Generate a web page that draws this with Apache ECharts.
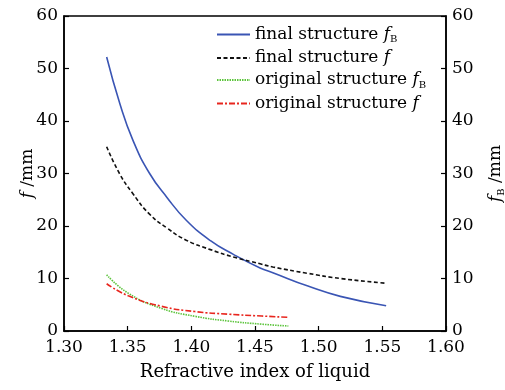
<!DOCTYPE html>
<html>
<head>
<meta charset="utf-8">
<script src="https://cdn.jsdelivr.net/npm/echarts@6/dist/echarts.min.js"></script>
<style>
  html, body { margin: 0; padding: 0; background: #fff; }
  #chart { width: 505px; height: 390px; }
</style>
</head>
<body>
<div id="chart"></div>
<script>
// refractive index samples
const nFinal = [1.3335, 1.344, 1.354, 1.367, 1.381, 1.396, 1.415, 1.433, 1.454, 1.464, 1.491, 1.517, 1.553];
const fbFinal = [52.2, 43.2, 36.4, 30.1, 25.4, 21.1, 17.2, 14.6, 12.0, 11.1, 8.6, 6.6, 4.8];
const fFinal = [35.1, 29.8, 26.2, 22.3, 19.6, 17.3, 15.5, 14.1, 12.8, 12.2, 11.0, 10.0, 9.1];

const nOrig = [1.3335, 1.3505, 1.3767, 1.4029, 1.429, 1.4553, 1.4762];
const fbOrig = [10.7, 7.2, 4.3, 2.8, 1.9, 1.3, 0.95];
const fOrig = [9.0, 6.7, 4.7, 3.7, 3.2, 2.85, 2.6];

const seriesNames = ['finalB', 'finalF', 'origB', 'origF'];

const FONT = 'DejaVu Serif';

function pairs(xs, ys) {
  return xs.map((x, i) => [x, ys[i]]);
}

// 图例文字（带斜体 f 和下标 B）
const legendText = {
  finalB: '{n|final structure }{i|f}{s|B}',
  finalF: '{n|final structure }{i|f}',
  origB: '{n|original structure }{i|f}{s|B}',
  origF: '{n|original structure }{i|f}'
};

const richText = {
  n: { fontFamily: FONT, fontSize: 17, color: '#000', lineHeight: 20 },
  i: { fontFamily: FONT, fontStyle: 'italic', fontSize: 17, color: '#000', lineHeight: 20 },
  s: { fontFamily: FONT, fontSize: 10, color: '#000', lineHeight: 20, verticalAlign: 'bottom' }
};

const chart = echarts.init(document.getElementById('chart'), null, { renderer: 'canvas' });

function yAxisOpt(name, pos, gap) {
  return {
    type: 'value',
    position: pos,
    min: 0,
    max: 60,
    interval: 10,
    name: name,
    nameLocation: 'middle',
    nameGap: gap,
    nameRotate: 90,
    nameMoveOverlap: false,
    nameTextStyle: { rich: richText },
    axisLine: { show: true, lineStyle: { color: '#000', width: 1.5 } },
    axisTick: { show: true, inside: true, length: 5, lineStyle: { color: '#000', width: 1.2 } },
    axisLabel: { fontFamily: FONT, fontSize: 17, color: '#000', margin: 6 },
    splitLine: { show: false }
  };
}

const option = {
  backgroundColor: '#fff',
  animation: false,
  grid: {
    left: 64,
    right: 59,
    top: 16,
    bottom: 59,
    show: true,
    borderColor: '#000',
    borderWidth: 1.5,
    containLabel: false,
    outerBoundsMode: 'none'
  },
  legend: {
    orient: 'vertical',
    left: 211,
    top: 21,
    itemWidth: 33,
    itemHeight: 14,
    itemGap: 5,
    data: seriesNames,
    formatter: (name) => legendText[name],
    itemStyle: { opacity: 0 },
    textStyle: { rich: richText }
  },
  xAxis: {
    type: 'value',
    min: 1.30,
    max: 1.60,
    interval: 0.05,
    name: 'Refractive index of liquid',
    nameLocation: 'middle',
    nameGap: 32,
    nameTextStyle: { fontFamily: FONT, fontSize: 18, color: '#000' },
    axisLine: { show: true, onZero: false, lineStyle: { color: '#000', width: 1.5 } },
    axisTick: { show: true, inside: true, length: 5, lineStyle: { color: '#000', width: 1.2 } },
    axisLabel: {
      fontFamily: FONT, fontSize: 17, color: '#000', margin: 8,
      formatter: (v) => v.toFixed(2)
    },
    splitLine: { show: false }
  },
  yAxis: [
    yAxisOpt('{i|f}{n| /mm}', 'left', 26),
    yAxisOpt('{i|f}{s|B}{n| /mm}', 'right', 40)
  ],
  series: [
    {
      name: 'finalB', type: 'line', yAxisIndex: 1, symbol: 'none', smooth: 0.5,
      lineStyle: { color: '#3a55b4', width: 1.6, type: 'solid' },
      itemStyle: { color: '#3a55b4' },
      data: pairs(nFinal, fbFinal)
    },
    {
      name: 'finalF', type: 'line', yAxisIndex: 0, symbol: 'none', smooth: 0.5,
      lineStyle: { color: '#111', width: 1.6, type: [4, 2.5] },
      itemStyle: { color: '#111' },
      data: pairs(nFinal, fFinal)
    },
    {
      name: 'origB', type: 'line', yAxisIndex: 1, symbol: 'none', smooth: 0.5,
      lineStyle: { color: '#5cc43c', width: 1.6, type: [1.5, 1] },
      itemStyle: { color: '#5cc43c' },
      data: pairs(nOrig, fbOrig)
    },
    {
      name: 'origF', type: 'line', yAxisIndex: 0, symbol: 'none', smooth: 0.5,
      lineStyle: { color: '#e8261e', width: 1.6, type: [6, 2, 2, 2] },
      itemStyle: { color: '#e8261e' },
      data: pairs(nOrig, fOrig)
    }
  ]
};

chart.setOption(option);
</script>
</body>
</html>
